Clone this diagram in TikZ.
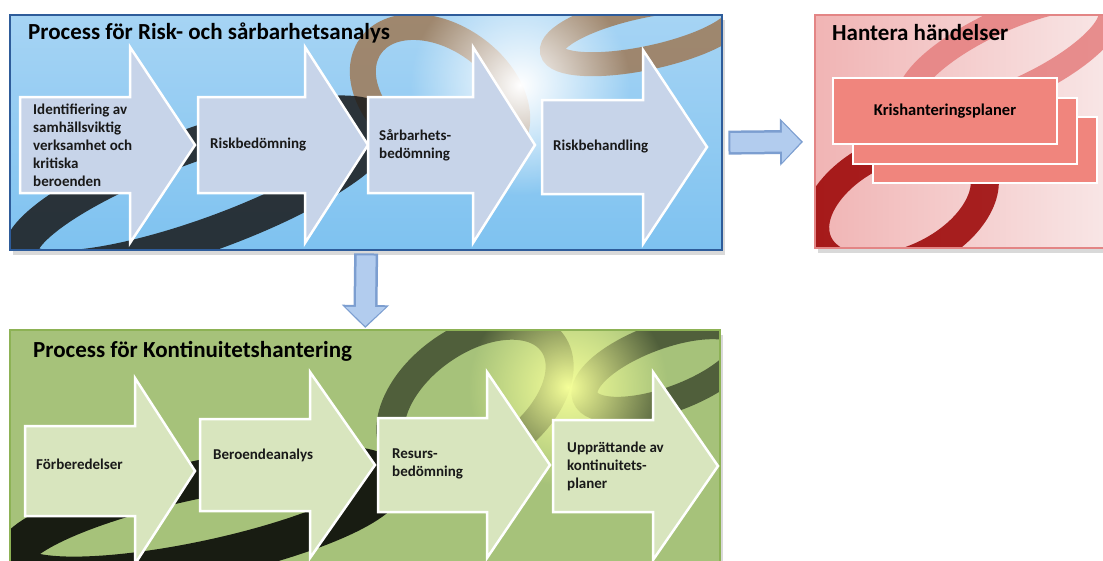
\documentclass[tikz,border=0pt]{standalone}
\usepackage{fontspec}
\setmainfont{Carlito}
\usetikzlibrary{shadows,arrows.meta,fadings}

\definecolor{skyblue}{HTML}{7EC2F0}
\definecolor{skytop}{HTML}{A6D4F4}
\definecolor{rsaline}{HTML}{2E5C9A}
\definecolor{rsastep}{HTML}{C7D4E9}
\definecolor{kontbase}{HTML}{A6C27A}
\definecolor{kontline}{HTML}{8DB255}
\definecolor{kontstep}{HTML}{D8E5BE}
\definecolor{hantbase}{HTML}{EFC8C8}
\definecolor{hantline}{HTML}{E38585}
\definecolor{cardfill}{HTML}{F0857D}
\definecolor{linkdark}{HTML}{7C9ED0}
\definecolor{linklight}{HTML}{B2CCEE}

\tikzfading[name=glow,inner color=transparent!0,outer color=transparent!100]

% block arrow: style, body left, head start, tip, centre y, body half, head half
\newcommand{\stepshape}[7]{\draw[#1] (#2,#5-#6) -- (#3,#5-#6) -- (#3,#5-#7) -- (#4,#5) -- (#3,#5+#7) -- (#3,#5+#6) -- (#2,#5+#6) -- cycle;}

\begin{document}
\begin{tikzpicture}[x=1pt,y=-1pt,
  panel/.style={rectangle,inner sep=0pt,anchor=north west,drop shadow={opacity=0.3,shadow xshift=3pt,shadow yshift=-5pt}},
  title/.style={anchor=west,inner sep=0pt,font=\fontsize{23}{27}\selectfont\bfseries},
  steptext/.style={anchor=west,inner sep=0pt,align=left,font=\fontsize{15}{18}\selectfont\bfseries,text=black!90},
  chain/.style={line width=#1,opacity=0.85},
  rsastepbox/.style={fill=rsastep,draw=white,line width=2.5pt,line join=miter},
  kontstepbox/.style={fill=kontstep,draw=white,line width=2.5pt,line join=miter},
  card/.style={rectangle,fill=cardfill,draw=white,line width=2pt,minimum width=224pt,minimum height=66pt,inner sep=0pt},
  linkarrow/.style={line width=24pt,color=linkdark,-{Triangle[length=23pt,width=46pt]}},
  linkinner/.style={line width=19pt,color=linklight,-{Triangle[length=19pt,width=39pt]}}]

\useasboundingbox (0,0) rectangle (1103,560);

% panels
\node[panel,fill=skyblue,minimum width=712pt,minimum height=235pt] (rsa) at (10,15) {};
\node[panel,fill=hantbase,minimum width=310pt,minimum height=233pt] (hant) at (815,15) {};
\node[panel,fill=kontbase,minimum width=710pt,minimum height=250pt] (kont) at (10,330) {};

% background chains
\begin{scope}
  \clip (rsa.north west) rectangle (rsa.south east);
  \shade[top color=skytop,bottom color=skyblue] (10,15) rectangle (722,250);
  \draw[chain=26pt,color=brown!70!black!80] (440,95) ellipse[x radius=85,y radius=58,rotate=-35];
  \draw[chain=24pt,color=brown!70!black!80] (645,32) ellipse[x radius=95,y radius=26,rotate=12];
  \fill[white,path fading=glow] (520,85) circle (110);
  \draw[chain=34pt,color=black!90] (200,190) ellipse[x radius=190,y radius=45,rotate=20];
\end{scope}
\begin{scope}
  \clip (hant.north west) rectangle (hant.south east);
  \shade[left color=hantbase!90!red,right color=hantbase!40!white] (815,15) rectangle (1125,248);
  \draw[chain=24pt,color=red!45!white!90!black] (1010,55) ellipse[x radius=110,y radius=35,rotate=25];
  \draw[chain=28pt,color=red!60!black] (900,205) ellipse[x radius=90,y radius=55,rotate=25];
\end{scope}
\begin{scope}
  \clip (kont.north west) rectangle (kont.south east);
  \draw[chain=28pt,color=kontbase!40!black] (475,398) ellipse[x radius=95,y radius=58,rotate=35];
  \draw[chain=26pt,color=kontbase!40!black] (665,368) ellipse[x radius=85,y radius=32,rotate=20];
  \fill[green!10!yellow!40!white,path fading=glow] (568,387) circle (100);
  \draw[chain=38pt,color=black] (200,520) ellipse[x radius=190,y radius=40,rotate=12];
\end{scope}
\draw[rsaline,line width=2pt] (rsa.north west) rectangle (rsa.south east);
\draw[hantline,line width=2pt] (hant.north west) rectangle (hant.south east);
\draw[kontline,line width=2pt] (kont.north west) rectangle (kont.south east);

% titles
\node[title] (rsatitle) at (28,33) {Process för Risk- och sårbarhetsanalys};
\node[title] (hanttitle) at (832,33) {Hantera händelser};
\node[title] (konttitle) at (33,351) {Process för Kontinuitetshantering};

% risk- och sårbarhetsanalys steps
\stepshape{rsastepbox}{20}{130}{195}{145}{48}{98}
\stepshape{rsastepbox}{198}{305}{368}{145}{48}{98}
\stepshape{rsastepbox}{368}{473}{535}{145}{48}{98}
\stepshape{rsastepbox}{542}{643}{707}{147}{47}{97}
\node[steptext] (ident) at (33,145) {Identifiering av\\samhällsviktig\\verksamhet och\\kritiska\\beroenden};
\node[steptext] (riskbed) at (210,145) {Riskbedömning};
\node[steptext] (sarbbed) at (379,145) {Sårbarhets-\\bedömning};
\node[steptext] (riskbeh) at (553,147) {Riskbehandling};

% kontinuitetshantering steps
\stepshape{kontstepbox}{25}{135}{195}{471}{45}{93}
\stepshape{kontstepbox}{200}{310}{375}{465}{46}{93}
\stepshape{kontstepbox}{378}{487}{550}{465}{47}{93}
\stepshape{kontstepbox}{553}{653}{718}{466}{46}{94}
\node[steptext] (forb) at (36,464) {Förberedelser};
\node[steptext] (beroende) at (213,455) {Beroendeanalys};
\node[steptext] (resurs) at (392,464) {Resurs-\\bedömning};
\node[steptext] (uppr) at (567,466) {Upprättande av\\kontinuitets-\\planer};

% krishanteringsplaner
\node[card] (card3) at (985,150) {};
\node[card] (card2) at (965,131) {};
\node[card,font=\fontsize{16.5}{20}\selectfont\bfseries] (card1) at (945,111) {Krishanteringsplaner};

% links between the processes
\draw[linkarrow,shorten <=3pt,shorten >=2pt] (rsa.south) -- (kont.north);
\draw[linkinner,shorten <=5pt,shorten >=4pt] (rsa.south) -- (kont.north);
\draw[linkarrow,shorten <=6pt,shorten >=12pt] ([yshift=-10pt]rsa.east) -- ([yshift=-10pt]hant.west);
\draw[linkinner,shorten <=8pt,shorten >=14pt] ([yshift=-10pt]rsa.east) -- ([yshift=-10pt]hant.west);
\end{tikzpicture}
\end{document}
